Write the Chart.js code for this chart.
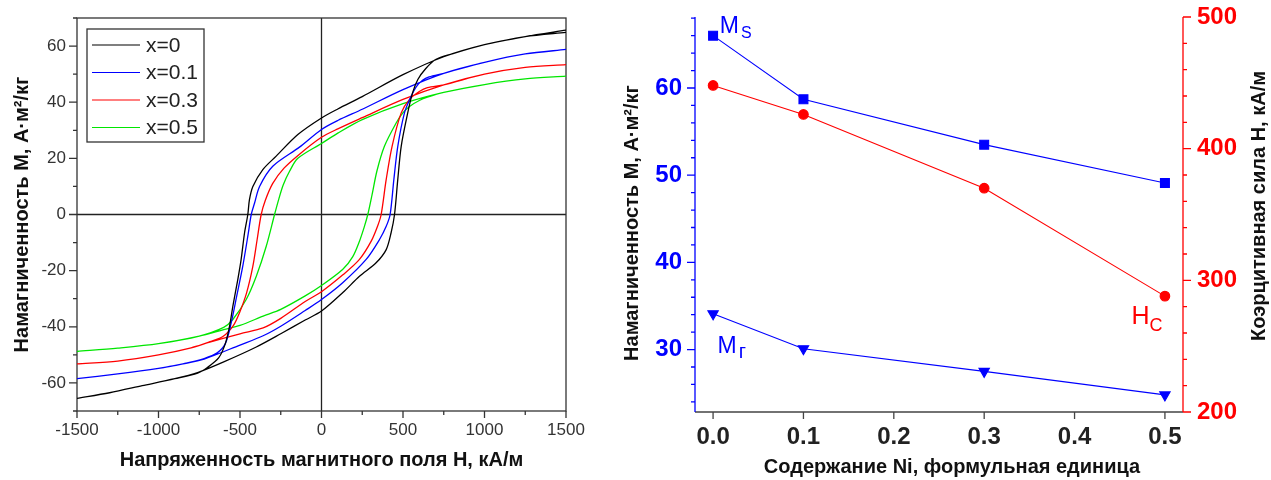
<!DOCTYPE html>
<html lang="ru">
<head>
<meta charset="utf-8">
<script src="https://cdn.jsdelivr.net/npm/chart.js@4.4.1/dist/chart.umd.min.js"></script>
<style>
  html, body { margin: 0; padding: 0; background: #fff; }
  #wrap { position: relative; width: 1271px; height: 480px; }
  .box { position: absolute; top: 0; height: 480px; }
  #left { left: 0; width: 600px; }
  #right { left: 600px; width: 671px; }
</style>
</head>
<body>
<div id="wrap">
  <div class="box" id="left"><canvas id="loops"></canvas></div>
  <div class="box" id="right"><canvas id="params"></canvas></div>
</div>
<script>
const FONT = '"Liberation Sans", Arial, sans-serif'

// --- hysteresis loops, H in kA/m, M in A·m²/kg ---
const loopLabels = ['x=0', 'x=0.1', 'x=0.3', 'x=0.5']
const loopColors = ['#000000', '#0000ff', '#ff0000', '#00e600']
const hTicks = [-1500, -1000, -500, 0, 500, 1000, 1500]
const mTicks = [-60, -40, -20, 0, 20, 40, 60]

// x=0 (down = from +1500 to -1500, up = back again)
const hDown0 = [1500, 1250, 1000, 750, 500, 250, 100, 0, -145, -278, -360, -421, -442, -452, -472, -493, -513, -544, -564, -590, -630, -700, -760, -900, -1100, -1300, -1500]
const mDown0 = [65.7, 63.4, 60.5, 56.2, 49.8, 42.0, 37.6, 34.4, 28.5, 20.8, 16, 10, 5.3, 0, -6.5, -16, -23, -32.7, -39.8, -46, -51, -54.5, -56.5, -58.5, -61, -63.5, -65.5]
const hUp0 = [-1500, -1300, -1100, -900, -760, -600, -400, -250, -100, 0, 131, 233, 335, 397, 427, 448, 468, 489, 529, 559, 591, 640, 700, 800, 1000, 1250, 1500]
const mUp0 = [-65.5, -63.5, -61, -58.5, -56.3, -52.5, -47.2, -42.5, -37.6, -34.4, -27.8, -22, -17.2, -12.5, -6.5, 0, 12.5, 24.3, 36.2, 43.4, 48.1, 52, 55.2, 57.2, 60.5, 63.4, 64.9]

// x=0.1
const hDown1 = [1500, 1250, 1000, 750, 500, 250, 100, 0, -135, -299, -380, -411, -431, -450, -483, -520, -554, -590, -640, -720, -850, -1000, -1250, -1500]
const mDown1 = [58.8, 57.2, 54.2, 50.3, 44.5, 37.5, 33.5, 30.3, 24, 17.2, 10, 4, 0, -7, -18.4, -29, -38.6, -46, -49.3, -51.3, -53.2, -54.8, -56.8, -58.5]
const hUp1 = [-1500, -1250, -1000, -850, -720, -500, -358, -250, -100, 0, 130, 274, 356, 397, 421, 444, 468, 509, 545, 581, 620, 660, 750, 1000, 1250, 1500]
const mUp1 = [-58.5, -56.8, -54.8, -53.2, -51.5, -46.5, -43.2, -39.8, -34.2, -30.3, -24.3, -16, -8.9, -4.2, 0, 12.5, 24.3, 36.2, 41.5, 45.5, 47.8, 49, 50.3, 54.2, 57.2, 58.8]

// x=0.3
const hDown2 = [1500, 1250, 1000, 750, 500, 250, 100, 0, -135, -230, -300, -345, -370, -395, -421, -460, -503, -540, -603, -685, -800, -1000, -1250, -1500]
const mDown2 = [53.4, 52.4, 50, 46.2, 41, 34.5, 30.5, 27.5, 21.5, 16.5, 11, 5, 0, -9, -18.4, -28, -35, -39.5, -43.4, -45.3, -47.5, -50, -52.2, -53.2]
const hUp2 = [-1500, -1250, -1000, -800, -685, -500, -358, -250, -100, 0, 131, 233, 305, 345, 366, 397, 433, 489, 540, 600, 650, 750, 1000, 1250, 1500]
const mUp2 = [-53.2, -52.2, -50, -47.5, -45.5, -42.5, -40.4, -37, -31, -27.5, -21.5, -16, -9.5, -4, 0, 12.5, 24.3, 36.2, 41, 43.8, 45.2, 46.2, 50, 52.4, 53.4]

// x=0.5
const hDown3 = [1500, 1250, 1000, 750, 500, 250, 100, 0, -145, -196, -235, -262, -288, -339, -400, -462, -544, -600, -750, -1000, -1250, -1500]
const mDown3 = [49.3, 48.3, 46.3, 43.5, 39.5, 33.8, 29, 25.3, 20, 15.4, 10.5, 5.5, 0, -11.3, -22, -30.3, -37.4, -40.2, -43.3, -46, -47.6, -48.8]
const hUp3 = [-1500, -1250, -1000, -750, -600, -500, -358, -250, -100, 0, 131, 192, 233, 262, 284, 310, 340, 386, 458, 499, 540, 600, 650, 750, 1000, 1250, 1500]
const mUp3 = [-48.8, -47.6, -46, -43.3, -41, -39.5, -36.2, -33.8, -29, -25.3, -19.5, -15, -9.5, -4.5, 0, 7, 15.5, 24.3, 32.6, 36.2, 38.5, 40.6, 41.8, 43.5, 46.3, 48.3, 49.3]

// --- saturation / remanence / coercivity vs Ni content ---
const niContent = [0, 0.1, 0.3, 0.5]
const niTicks = [0, 0.1, 0.2, 0.3, 0.4, 0.5]
const msValues = [66.0, 58.7, 53.5, 49.1]
const mrValues = [34.1, 30.1, 27.5, 24.8]
const hcValues = [448, 426, 370, 288]
const magTicks = [30, 40, 50, 60]
const hcTicks = [200, 300, 400, 500]

const branches = [
  [hDown0, mDown0, hUp0, mUp0],
  [hDown1, mDown1, hUp1, mUp1],
  [hDown2, mDown2, hUp2, mUp2],
  [hDown3, mDown3, hUp3, mUp3]
]

function toPoints(hs, ms) {
  return hs.map((h, i) => ({ x: h, y: ms[i] }))
}

// fixed axis box size, no extra room for the outer tick labels
function fixSize(prop, size) {
  return s => {
    s[prop] = size
    s.paddingTop = 0
    s.paddingBottom = 0
    s.paddingLeft = 0
    s.paddingRight = 0
  }
}

// ticks, axis lines, frame and zero lines drawn by hand (Chart.js has no minor ticks)
const axisMarks = {
  id: 'axisMarks',
  beforeDatasetsDraw(chart, args, opts) {
    const { ctx, chartArea: a } = chart
    ctx.save()
    ctx.lineCap = 'butt'
    if (opts.zeroLines) {
      ctx.strokeStyle = opts.zeroLines
      ctx.lineWidth = 1.3
      const x0 = chart.scales.x.getPixelForValue(0)
      const y0 = chart.scales.y.getPixelForValue(0)
      ctx.beginPath()
      ctx.moveTo(x0, a.top); ctx.lineTo(x0, a.bottom)
      ctx.moveTo(a.left, y0); ctx.lineTo(a.right, y0)
      ctx.stroke()
    }
    if (opts.frame) {
      ctx.strokeStyle = opts.frame
      ctx.lineWidth = 1.3
      ctx.strokeRect(a.left, a.top, a.right - a.left, a.bottom - a.top)
    }
    for (const id of Object.keys(opts.scales || {})) {
      const c = opts.scales[id]
      const s = chart.scales[id]
      ctx.strokeStyle = c.color
      ctx.lineWidth = c.width || 1.3
      ctx.beginPath()
      const marks = []
      c.major.forEach(v => marks.push([v, c.majorLen]))
      for (let v = c.minorFrom; v <= c.minorTo + 1e-9; v += c.minorStep) {
        if (!c.major.some(m => Math.abs(m - v) < 1e-6)) marks.push([v, c.minorLen])
      }
      if (c.side === 'bottom') {
        if (c.line) { ctx.moveTo(a.left, a.bottom); ctx.lineTo(a.right, a.bottom) }
        marks.forEach(([v, len]) => {
          const p = s.getPixelForValue(v)
          ctx.moveTo(p, a.bottom); ctx.lineTo(p, a.bottom + len)
        })
      } else {
        const x = c.side === 'left' ? a.left : a.right
        const dir = c.side === 'left' ? -1 : 1
        if (c.line) { ctx.moveTo(x, a.top); ctx.lineTo(x, a.bottom) }
        marks.forEach(([v, len]) => {
          const p = s.getPixelForValue(v)
          ctx.moveTo(x, p); ctx.lineTo(x + dir * len, p)
        })
      }
      ctx.stroke()
    }
    ctx.restore()
  }
}

// boxed legend inside the plot
const boxLegend = {
  id: 'boxLegend',
  afterDraw(chart, args, opts) {
    if (!opts.show) return
    const { ctx, chartArea: a } = chart
    const x = a.left + 10, y = a.top + 11, w = 117, h = 113
    ctx.save()
    ctx.fillStyle = '#fff'
    ctx.fillRect(x, y, w, h)
    ctx.strokeStyle = '#333'
    ctx.lineWidth = 1.3
    ctx.strokeRect(x, y, w, h)
    ctx.font = '21px ' + FONT
    ctx.textBaseline = 'middle'
    chart.data.datasets.forEach((d, i) => {
      const cy = y + 16 + i * 27.5
      ctx.strokeStyle = d.borderColor
      ctx.lineWidth = 1.2
      ctx.beginPath()
      ctx.moveTo(x + 5, cy); ctx.lineTo(x + 53, cy)
      ctx.stroke()
      ctx.fillStyle = '#222'
      ctx.fillText(d.label, x + 59, cy + 1)
    })
    ctx.restore()
  }
}

// rotated axis titles and subscripted labels for the right chart
const labelText = {
  id: 'labelText',
  afterDraw(chart, args, opts) {
    const { ctx } = chart
    ctx.save()
    ;(opts.titles || []).forEach(t => {
      ctx.save()
      ctx.translate(t.x, t.y)
      ctx.rotate(t.rotation || 0)
      ctx.font = 'bold 20px ' + FONT
      ctx.fillStyle = '#111'
      ctx.textAlign = 'center'
      ctx.textBaseline = 'middle'
      ctx.fillText(t.text, 0, 0)
      ctx.restore()
    })
    ;(opts.notes || []).forEach(n => {
      const s = chart.scales[n.axis]
      const px = chart.scales.x.getPixelForValue(n.x)
      const py = s.getPixelForValue(n.y)
      ctx.fillStyle = n.color
      ctx.textBaseline = 'alphabetic'
      ctx.textAlign = 'left'
      ctx.font = n.size + 'px ' + FONT
      ctx.fillText(n.text, px, py)
      const w = ctx.measureText(n.text).width
      ctx.font = n.subSize + 'px ' + FONT
      ctx.fillText(n.sub, px + w + n.subDx, py + n.subDy)
    })
    ctx.restore()
  }
}

const tickFontL = { family: FONT, size: 17 }

new Chart(document.getElementById('loops'), {
  type: 'scatter',
  data: {
    datasets: branches.map((b, i) => ({
      label: loopLabels[i],
      data: toPoints(b[0], b[1]).concat(toPoints(b[2], b[3])),
      showLine: true,
      borderColor: loopColors[i],
      backgroundColor: loopColors[i],
      borderWidth: 1.3,
      pointRadius: 0,
      tension: 0.3
    }))
  },
  options: {
    responsive: true,
    maintainAspectRatio: false,
    animation: false,
    layout: { padding: { top: 18, right: 34, left: 0, bottom: 0 } },
    plugins: {
      legend: { display: false },
      tooltip: { enabled: false },
      boxLegend: { show: true },
      axisMarks: {
        frame: '#333',
        zeroLines: '#222',
        scales: {
          x: { side: 'bottom', color: '#333', major: hTicks, majorLen: 7, minorLen: 4, minorFrom: -1500, minorTo: 1500, minorStep: 250 },
          y: { side: 'left', color: '#333', major: mTicks, majorLen: 8, minorLen: 4, minorFrom: -70, minorTo: 70, minorStep: 10 }
        }
      }
    },
    scales: {
      x: {
        type: 'linear',
        min: -1500,
        max: 1500,
        afterBuildTicks: s => { s.ticks = hTicks.map(v => ({ value: v })) },
        afterFit: fixSize('height', 69),
        grid: { display: false, drawTicks: false },
        border: { display: false },
        ticks: { font: tickFontL, color: '#333', padding: 9, maxRotation: 0, callback: v => String(v) },
        title: {
          display: true,
          text: 'Напряженность магнитного поля H, кА/м',
          font: { family: FONT, size: 20, weight: 'bold' },
          color: '#111',
          padding: { top: 0, bottom: 8 }
        }
      },
      y: {
        min: -70,
        max: 70,
        afterBuildTicks: s => { s.ticks = mTicks.map(v => ({ value: v })) },
        afterFit: fixSize('width', 77),
        grid: { display: false, drawTicks: false },
        border: { display: false },
        ticks: { font: tickFontL, color: '#333', padding: 11, callback: v => String(v) },
        title: {
          display: true,
          text: 'Намагниченность M, А·м²/кг',
          font: { family: FONT, size: 20, weight: 'bold' },
          color: '#111',
          padding: { top: 10, bottom: 0 }
        }
      }
    }
  },
  plugins: [axisMarks, boxLegend]
})

const boldTick = { family: FONT, size: 24, weight: 'bold' }

new Chart(document.getElementById('params'), {
  type: 'line',
  data: {
    datasets: [
      {
        label: 'Ms',
        data: toPoints(niContent, msValues),
        yAxisID: 'y',
        borderColor: '#0000ff',
        backgroundColor: '#0000ff',
        borderWidth: 1.1,
        pointStyle: 'rect',
        pointRadius: 6.3
      },
      {
        label: 'Hc',
        data: toPoints(niContent, hcValues),
        yAxisID: 'y1',
        borderColor: '#ff0000',
        backgroundColor: '#ff0000',
        borderWidth: 1.1,
        pointStyle: 'circle',
        pointRadius: 4.8
      },
      {
        label: 'Mr',
        data: toPoints(niContent, mrValues),
        yAxisID: 'y',
        borderColor: '#0000ff',
        backgroundColor: '#0000ff',
        borderWidth: 1.1,
        pointStyle: 'triangle',
        pointRotation: 180,
        pointRadius: 6
      }
    ]
  },
  options: {
    responsive: true,
    maintainAspectRatio: false,
    animation: false,
    layout: { padding: { top: 17, right: 0, left: 0, bottom: 0 } },
    plugins: {
      legend: { display: false },
      tooltip: { enabled: false },
      axisMarks: {
        scales: {
          x: { side: 'bottom', line: true, color: '#444', major: niTicks, majorLen: 7, minorLen: 0, minorFrom: 0, minorTo: 0, minorStep: 1 },
          y: { side: 'left', line: true, color: '#0000ff', major: magTicks, majorLen: 8, minorLen: 4, minorFrom: 24, minorTo: 68, minorStep: 2 },
          y1: { side: 'right', line: true, color: '#ff0000', major: hcTicks, majorLen: 8, minorLen: 4, minorFrom: 200, minorTo: 500, minorStep: 20 }
        }
      },
      labelText: {
        titles: [
          { text: 'Намагниченность M, А·м²/кг', x: 32, y: 223, rotation: -Math.PI / 2 },
          { text: 'Коэрцитивная сила H, кА/м', x: 659, y: 206, rotation: -Math.PI / 2 },
          { text: 'Содержание Ni, формульная единица', x: 352, y: 467 }
        ],
        notes: [
          { text: 'M', sub: 'S', x: 0.0074, y: 66.3, axis: 'y', color: '#0000ff', size: 23, subSize: 16, subDx: 2, subDy: 5 },
          { text: 'M', sub: 'г', x: 0.005, y: 29.6, axis: 'y', color: '#0000ff', size: 23, subSize: 20, subDx: 2, subDy: 5 },
          { text: 'H', sub: 'C', x: 0.463, y: 267, axis: 'y1', color: '#ff0000', size: 25, subSize: 18, subDx: 0, subDy: 7 }
        ]
      }
    },
    scales: {
      x: {
        type: 'linear',
        min: -0.02,
        max: 0.52,
        afterBuildTicks: s => { s.ticks = niTicks.map(v => ({ value: v })) },
        afterFit: fixSize('height', 68),
        grid: { display: false, drawTicks: false },
        border: { display: false },
        ticks: { font: boldTick, color: '#222', padding: 11, maxRotation: 0, callback: v => v.toFixed(1) }
      },
      y: {
        position: 'left',
        min: 22.84,
        max: 68.14,
        afterBuildTicks: s => { s.ticks = magTicks.map(v => ({ value: v })) },
        afterFit: fixSize('width', 95),
        grid: { display: false, drawTicks: false },
        border: { display: false },
        ticks: { font: boldTick, color: '#0000ff', padding: 13, callback: v => String(v) }
      },
      y1: {
        position: 'right',
        min: 200,
        max: 500,
        afterBuildTicks: s => { s.ticks = hcTicks.map(v => ({ value: v })) },
        afterFit: fixSize('width', 88),
        grid: { display: false, drawTicks: false },
        border: { display: false },
        ticks: { font: boldTick, color: '#ff0000', padding: 14, callback: v => String(v) }
      }
    }
  },
  plugins: [axisMarks, labelText]
})
</script>
</body>
</html>
